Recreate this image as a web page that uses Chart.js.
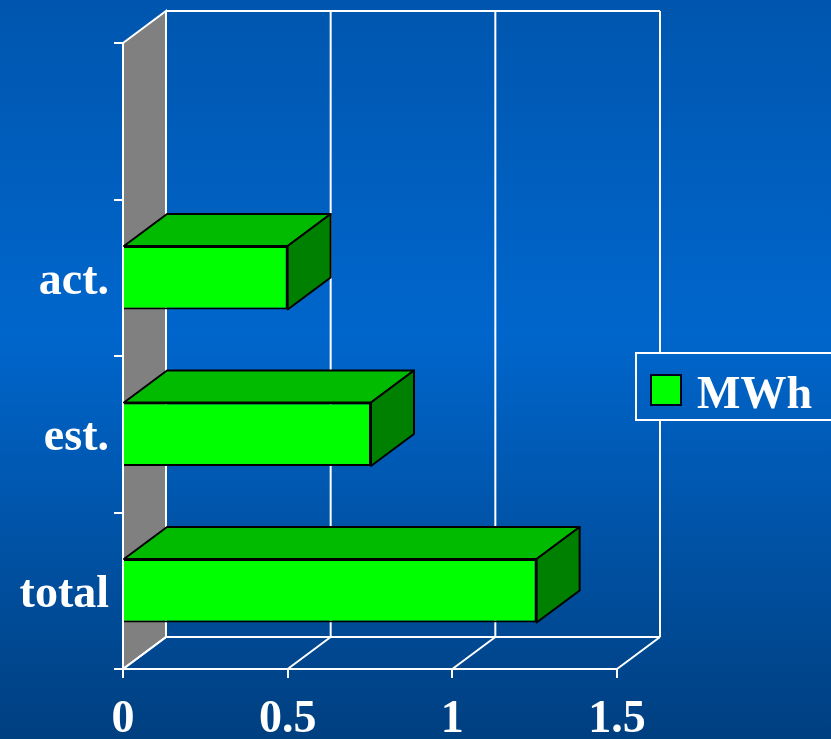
<!DOCTYPE html>
<html>
<head>
<meta charset="utf-8">
<style>
  html, body { margin: 0; padding: 0; background: #0060c0; }
  canvas { display: block; }
</style>
<script src="https://cdn.jsdelivr.net/npm/chart.js@4"></script>
</head>
<body>
<canvas id="energyChart" width="831" height="739"></canvas>
<script>
const categories = ['total', 'est.', 'act.', ''];
const mwhValues = [1.256, 0.753, 0.5, null];
const seriesName = 'MWh';
const xMax = 1.5;
const xStep = 0.5;

const DEPTH_X = 43;
const DEPTH_Y = 32;
const FONT = 'bold 46px "Liberation Serif"';
const tickFont = { family: '"Liberation Serif"', size: 46, weight: 'bold' };

function poly(ctx, pts, fill, stroke, width) {
    ctx.beginPath();
    pts.forEach((p, i) => i ? ctx.lineTo(p[0], p[1]) : ctx.moveTo(p[0], p[1]));
    ctx.closePath();
    if (fill) { ctx.fillStyle = fill; ctx.fill(); }
    if (stroke) { ctx.strokeStyle = stroke; ctx.lineWidth = width; ctx.stroke(); }
}

function line(ctx, x1, y1, x2, y2) {
    ctx.beginPath();
    ctx.moveTo(x1, y1);
    ctx.lineTo(x2, y2);
    ctx.stroke();
}

function backdrop(chart) {
    const g = chart.ctx.createLinearGradient(0, 0, 0, chart.height);
    g.addColorStop(0, '#0056ae');
    g.addColorStop(0.45, '#0066cc');
    g.addColorStop(1, '#003f80');
    return g;
}

// box walls, floor and the background go under the library's own axes
const wallsPlugin = {
    id: 'walls',
    beforeDraw(chart) {
        const { ctx, chartArea: a, scales } = chart;
        const bx = a.right + DEPTH_X, tx = a.left + DEPTH_X;
        const by = a.bottom - DEPTH_Y, ty = a.top - DEPTH_Y;
        ctx.save();
        ctx.fillStyle = backdrop(chart);
        ctx.fillRect(0, 0, chart.width, chart.height);

        poly(ctx, [[a.left, a.top], [tx, ty], [tx, by], [a.left, a.bottom]], '#808080', '#ffffff', 2);
        ctx.strokeStyle = '#ffffff';
        ctx.lineWidth = 2;
        line(ctx, tx, ty, bx, ty);
        line(ctx, tx, by, bx, by);
        scales.x.ticks.forEach(t => {
            const px = scales.x.getPixelForValue(t.value);
            line(ctx, px + DEPTH_X, ty, px + DEPTH_X, by);
            line(ctx, px, a.bottom, px + DEPTH_X, by);
        });
        ctx.restore();
    }
};

// top and side faces of each bar, worked out from the bar element, plus the legend
const facesPlugin = {
    id: 'faces',
    afterDatasetsDraw(chart) {
        const { ctx } = chart;
        ctx.save();
        ctx.lineJoin = 'round';
        chart.getDatasetMeta(0).data.forEach((bar, i) => {
            if (mwhValues[i] === null) return;
            const p = bar.getProps(['x', 'y', 'base', 'height'], true);
            const top = p.y - p.height / 2, bottom = p.y + p.height / 2;
            poly(ctx, [[p.base, top], [p.base + DEPTH_X, top - DEPTH_Y], [p.x + DEPTH_X, top - DEPTH_Y], [p.x, top]],
                '#00bb00', '#000000', 2);
            poly(ctx, [[p.x, top], [p.x + DEPTH_X, top - DEPTH_Y], [p.x + DEPTH_X, bottom - DEPTH_Y], [p.x, bottom]],
                '#008000', '#000000', 2);
        });
        ctx.restore();
    },
    afterDraw(chart) {
        const { ctx } = chart;
        ctx.save();
        ctx.fillStyle = backdrop(chart);
        ctx.strokeStyle = '#ffffff';
        ctx.lineWidth = 2;
        ctx.fillRect(636, 353, 200, 67);
        ctx.strokeRect(636, 353, 200, 67);
        ctx.fillStyle = '#00ff00';
        ctx.strokeStyle = '#000022';
        ctx.fillRect(651, 375, 30, 30);
        ctx.strokeRect(651, 375, 30, 30);
        ctx.fillStyle = '#ffffff';
        ctx.font = FONT;
        ctx.textBaseline = 'alphabetic';
        ctx.fillText(chart.data.datasets[0].label, 697, 408);
        ctx.restore();
    }
};

new Chart(document.getElementById('energyChart'), {
    type: 'bar',
    data: {
        labels: categories,
        datasets: [{
            label: seriesName,
            data: mwhValues,
            backgroundColor: '#00ff00',
            borderColor: '#000000',
            borderWidth: 2,
            barPercentage: 0.405,
            categoryPercentage: 1
        }]
    },
    options: {
        indexAxis: 'y',
        responsive: false,
        animation: false,
        layout: { padding: { top: 43, right: 214, left: 0, bottom: 0 } },
        plugins: { legend: { display: false }, tooltip: { enabled: false } },
        scales: {
            x: {
                min: 0,
                max: xMax,
                afterFit(s) { s.height = 70; },
                border: { color: '#ffffff', width: 2 },
                grid: { color: '#ffffff', lineWidth: 2, drawOnChartArea: false, tickLength: 9 },
                ticks: {
                    stepSize: xStep,
                    color: '#ffffff',
                    padding: 15,
                    maxRotation: 0,
                    font: tickFont,
                    callback: v => String(v)
                }
            },
            y: {
                reverse: true,
                afterFit(s) { s.width = 123; },
                border: { color: '#ffffff', width: 2 },
                grid: { color: '#ffffff', lineWidth: 2, drawOnChartArea: false, tickLength: 9, offset: true },
                ticks: {
                    color: '#ffffff',
                    padding: 5,
                    labelOffset: 4,
                    font: tickFont
                }
            }
        }
    },
    plugins: [wallsPlugin, facesPlugin]
});
</script>
</body>
</html>
